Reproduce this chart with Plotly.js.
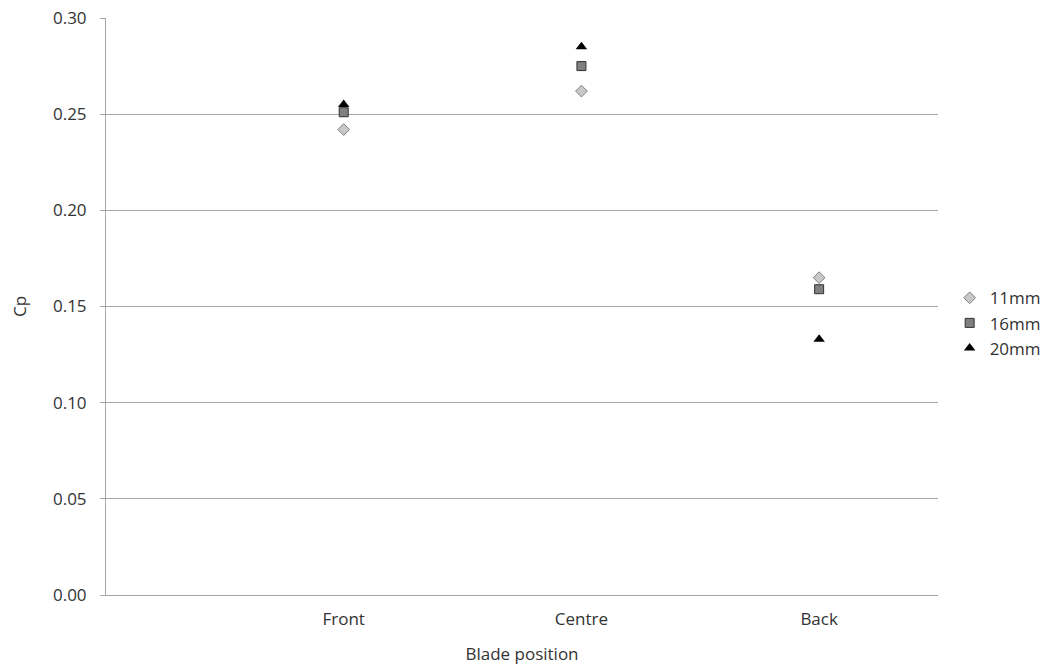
<!DOCTYPE html>
<html>
<head>
<meta charset="utf-8">
<script src="https://cdn.plot.ly/plotly-3.0.1.min.js"></script>
<style>html,body{margin:0;padding:0;background:#fff;}#chart{width:1047px;height:665px;}</style>
</head>
<body>
<div id="chart"></div>
<script>
const categories = ["Front", "Centre", "Back"];
const categoryPos = [1, 2, 3];
const seriesNames = ["11mm", "16mm", "20mm"];
const cp11 = [0.242, 0.262, 0.165];
const cp16 = [0.251, 0.275, 0.159];
const cp20 = [0.255, 0.285, 0.133];
const yTicks = [0, 0.05, 0.10, 0.15, 0.20, 0.25, 0.30];

const font = {family: "Open Sans, Liberation Sans, sans-serif", size: 17, color: "#333333"};

const traces = [
  {x: categoryPos, y: cp11, name: seriesNames[0], mode: "markers", type: "scatter",
   marker: {symbol: "diamond", size: 9, color: "#c8c8c8", line: {color: "#7f7f7f", width: 1}}},
  {x: categoryPos, y: cp16, name: seriesNames[1], mode: "markers", type: "scatter",
   marker: {symbol: "square", size: 9, color: "#808080", line: {color: "#303030", width: 1}}},
  {x: categoryPos, y: cp20, name: seriesNames[2], mode: "markers", type: "scatter",
   marker: {symbol: "triangle-up", size: 10, color: "#000000", line: {color: "#000000", width: 0}}}
];

const layout = {
  width: 1047, height: 665,
  margin: {l: 106, r: 109, t: 18, b: 70, autoexpand: false},
  paper_bgcolor: "#ffffff", plot_bgcolor: "#ffffff",
  font: font,
  showlegend: true,
  legend: {x: 1.014, xanchor: "left", y: 0.471, yanchor: "middle",
           font: font, tracegroupgap: 0, itemwidth: 30},
  xaxis: {range: [0, 3.5], tickvals: categoryPos, ticktext: categories,
          showgrid: false, zeroline: false, showline: true, linecolor: "#a6a6a6", linewidth: 1,
          ticks: "", tickfont: font, fixedrange: true, automargin: false, ticklabelstandoff: 9,
          title: {text: "Blade position", font: font, standoff: 19}},
  yaxis: {range: [0, 0.30], tickvals: yTicks, tickformat: ".2f",
          showgrid: true, gridcolor: "#a6a6a6", gridwidth: 1, zeroline: false,
          showline: true, linecolor: "#a6a6a6", linewidth: 1, automargin: false,
          ticks: "outside", ticklen: 5, tickcolor: "#a6a6a6", tickfont: font, ticklabelstandoff: 10,
          title: {text: "Cp", font: font, standoff: 22}}
};

Plotly.newPlot("chart", traces, layout, {displayModeBar: false, staticPlot: true});
</script>
</body>
</html>
